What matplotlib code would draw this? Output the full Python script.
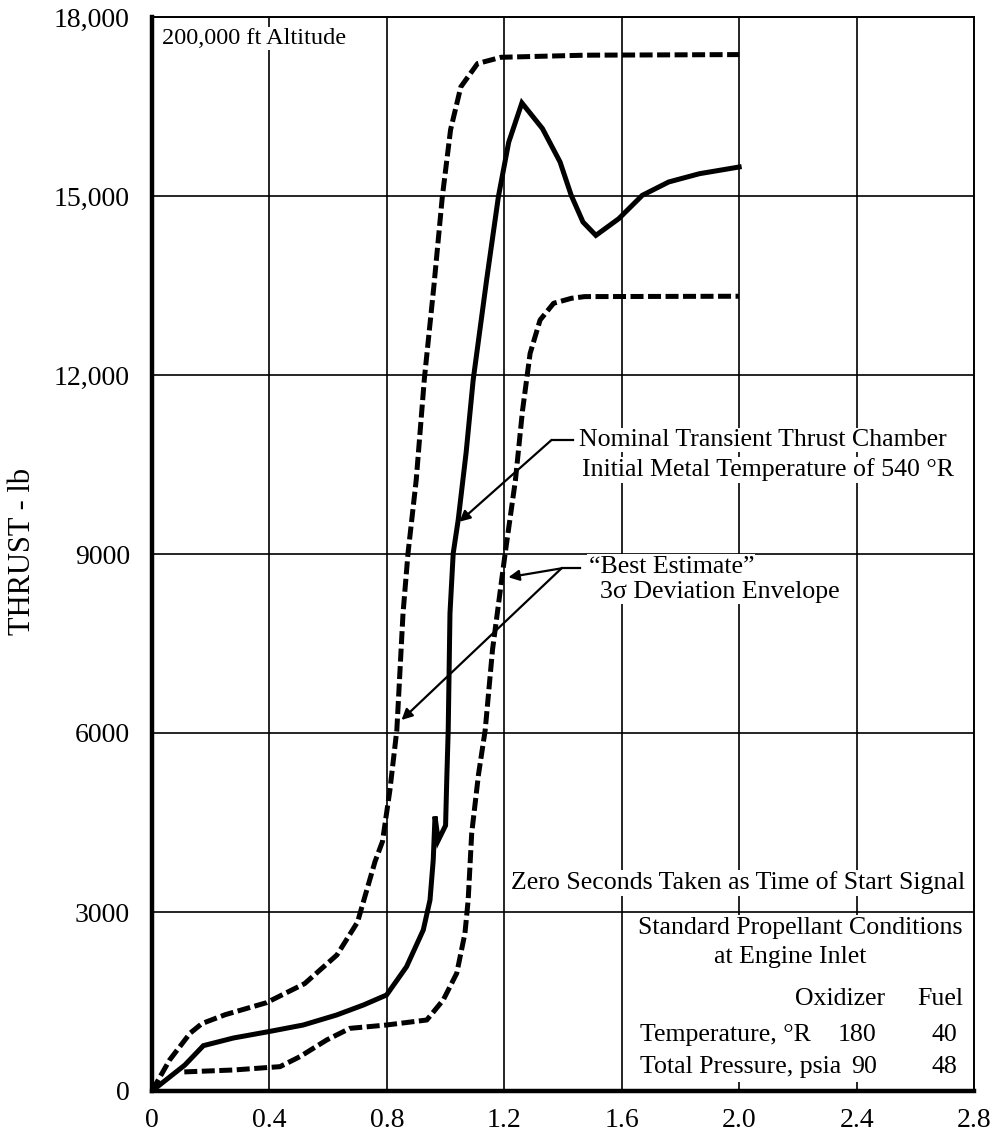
import matplotlib
matplotlib.use("Agg")
from matplotlib import pyplot as plt
from matplotlib.patches import Rectangle

# Data (time in s, thrust in lb)
x_upper = [0, 0.06, 0.13, 0.17, 0.25, 0.39, 0.52, 0.63, 0.70, 0.76, 0.785, 0.81, 0.834,
           0.855, 0.872, 0.900, 0.928, 0.960, 0.989, 1.017, 1.052, 1.109, 1.189, 1.476, 2.0]
y_upper = [0, 520, 970, 1130, 1280, 1480, 1800, 2280, 2830, 3850, 4180, 5030, 6050,
           8000, 9010, 10240, 11950, 13480, 14990, 16110, 16830, 17220, 17325, 17360, 17370]

x_lower = [0.11, 0.277, 0.436, 0.504, 0.595, 0.674, 0.799, 0.936, 0.992, 1.038, 1.066,
           1.077, 1.089, 1.112, 1.135, 1.16, 1.203, 1.238, 1.262, 1.288, 1.322, 1.368,
           1.429, 1.474, 2.0]
y_lower = [320, 352, 408, 576, 855, 1050, 1106, 1190, 1525, 1973, 2643,
           3201, 4319, 5300, 6050, 7400, 9012, 10240, 11400, 12363, 12922, 13202,
           13286, 13314, 13320]

x_nominal = [0, 0.112, 0.175, 0.277, 0.396, 0.515, 0.629, 0.72, 0.799, 0.867, 0.924,
             0.947, 0.958, 0.964, 0.975, 1.0, 1.004, 1.009, 1.015, 1.026, 1.043, 1.07,
             1.094, 1.14, 1.18, 1.215, 1.26, 1.33, 1.39, 1.428, 1.468, 1.512, 1.59,
             1.67, 1.76, 1.865, 2.0]
y_nominal = [0, 436, 760, 888, 994, 1106, 1274, 1441, 1609, 2083, 2698,
             3201, 3872, 4600, 4200, 4450, 5213, 6050, 8006, 9012, 9570, 10700,
             11916, 13600, 14990, 15900, 16560, 16130, 15570, 15011, 14564, 14340, 14620,
             15011, 15235, 15374, 15486]

x_ticks = [0, 0.4, 0.8, 1.2, 1.6, 2.0, 2.4, 2.8]
x_tick_labels = ["0", "0.4", "0.8", "1.2", "1.6", "2.0", "2.4", "2.8"]
y_ticks = [0, 3000, 6000, 9000, 12000, 15000, 18000]
y_tick_labels = ["0", "3000", "6000", "9000", "12,000", "15,000", "18,000"]


def main():

    plt.rcParams['font.family'] = ['Liberation Serif', 'DejaVu Serif']

    # Parameters
    ink = 'black'
    text_size = 18.6
    box = dict(facecolor='white', edgecolor='none', pad=1.0)
    dash = (0, (2.6, 0.9))

    fig = plt.figure(figsize=(9.95, 11.35), dpi=100)
    ax = fig.add_axes([152 / 995, 44 / 1135, 822 / 995, 1074 / 1135])
    ax.set_xlim(0, 2.8)
    ax.set_ylim(0, 18000)
    ax.set_axisbelow(True)

    ax.set_xticks(x_ticks, x_tick_labels)
    ax.set_yticks(y_ticks, y_tick_labels)
    ax.tick_params(axis='both', length=0, labelsize=20, colors=ink)
    ax.tick_params(axis='x', pad=12)
    ax.tick_params(axis='y', pad=16)
    ax.grid(True, color=ink, linewidth=1.2)

    for side in ('left', 'bottom'):
        ax.spines[side].set_linewidth(3.2)
    for side in ('top', 'right'):
        ax.spines[side].set_linewidth(1.4)

    # curves
    ax.plot(x_upper, y_upper, color=ink, lw=3.6, linestyle=dash, zorder=2)
    ax.plot(x_lower, y_lower, color=ink, lw=3.6, linestyle=dash, zorder=2)
    ax.plot(x_nominal, y_nominal, color=ink, lw=3.6, solid_joinstyle='miter', zorder=2)

    # table background hides the grid
    ax.add_patch(Rectangle((1.64, 150), 1.14, 2800, facecolor='white', edgecolor='none', zorder=1))

    arrow = dict(arrowstyle='-|>', color=ink, lw=1.6, mutation_scale=16, shrinkA=0, shrinkB=0)

    # nominal callout
    ax.plot([1.361, 1.433], [10911, 10911], color=ink, lw=1.6, zorder=3)
    ax.annotate('', xy=(1.047, 9540), xytext=(1.361, 10911), arrowprops=arrow, zorder=3)
    ax.text(1.455, 10911, "Nominal Transient Thrust Chamber", fontsize=text_size,
            ha='left', va='center', bbox=box, zorder=4)
    ax.text(1.465, 10408, "Initial Metal Temperature of 540 °R", fontsize=text_size,
            ha='left', va='center', bbox=box, zorder=4)

    # envelope callout
    ax.plot([1.395, 1.458], [8760, 8760], color=ink, lw=1.6, zorder=3)
    ax.annotate('', xy=(1.214, 8610), xytext=(1.395, 8760), arrowprops=arrow, zorder=3)
    ax.annotate('', xy=(0.850, 6218), xytext=(1.395, 8760), arrowprops=arrow, zorder=3)
    ax.text(1.487, 8787, "\u201cBest Estimate\u201d", fontsize=text_size,
            ha='left', va='center', bbox=box, zorder=4)
    ax.text(1.526, 8368, "3\u03c3 Deviation Envelope", fontsize=text_size,
            ha='left', va='center', bbox=box, zorder=4)

    ax.text(0.012, 0.980, "200,000 ft Altitude", transform=ax.transAxes, fontsize=17.5,
            ha='left', va='center', bbox=box, zorder=4)

    ax.text(2.77, 3486, "Zero Seconds Taken as Time of Start Signal", fontsize=text_size,
            ha='right', va='center', bbox=box, zorder=4)
    ax.text(2.207, 2732, "Standard Propellant Conditions", fontsize=text_size,
            ha='center', va='center', zorder=4)
    ax.text(2.173, 2246, "at Engine Inlet", fontsize=text_size, ha='center', va='center', zorder=4)
    ax.text(2.343, 1542, "Oxidizer", fontsize=text_size, ha='center', va='center', zorder=4)
    ax.text(2.684, 1542, "Fuel", fontsize=text_size, ha='center', va='center', zorder=4)
    ax.text(1.662, 939, "Temperature, °R", fontsize=text_size, ha='left', va='center', zorder=4)
    ax.text(2.401, 939, "180", fontsize=text_size, ha='center', va='center', zorder=4)
    ax.text(2.698, 939, "40", fontsize=text_size, ha='center', va='center', zorder=4)
    ax.text(1.662, 402, "Total Pressure, psia", fontsize=text_size, ha='left', va='center', zorder=4)
    ax.text(2.425, 402, "90", fontsize=text_size, ha='center', va='center', zorder=4)
    ax.text(2.698, 402, "48", fontsize=text_size, ha='center', va='center', zorder=4)

    fig.text(23 / 995, 1 - 551 / 1135, "THRUST - lb", rotation=90, fontsize=22,
             ha='center', va='center')

    fig.savefig("out.png", dpi=100)


if __name__ == '__main__':
    main()
